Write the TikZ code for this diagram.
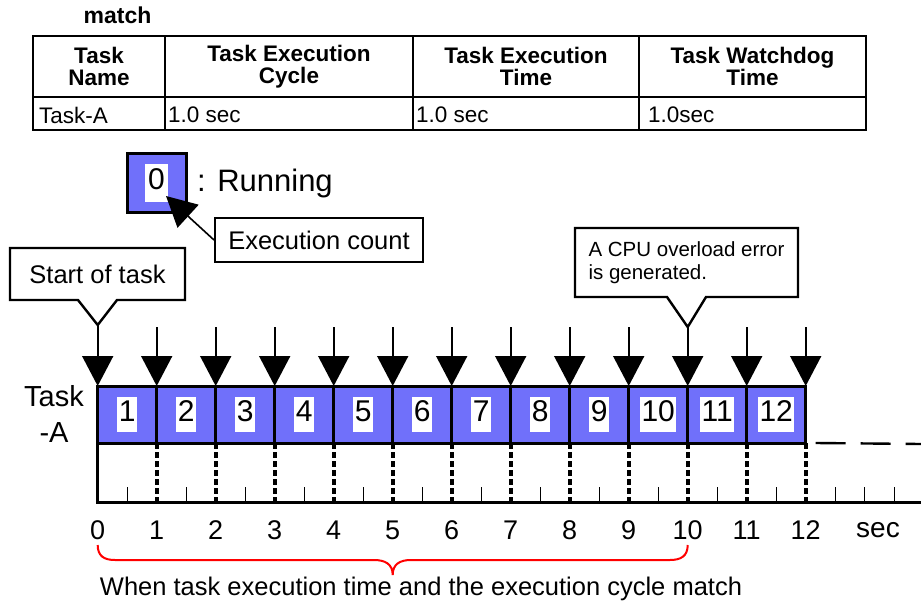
\documentclass[tikz,border=0pt]{standalone}
\usepackage{fontspec}
\setmainfont{Liberation Sans}
\usetikzlibrary{arrows.meta,calc}
\definecolor{runblue}{RGB}{112,112,250}
\newcommand{\fsz}[2]{\fontsize{#1}{#2}\selectfont}
\begin{document}
\begin{tikzpicture}[x=1pt,y=-1pt,
  cellbox/.style={draw,line width=3pt,fill=runblue,minimum width=59pt,minimum height=57pt,inner sep=0pt,outer sep=0pt},
  numbox/.style={fill=white,inner xsep=1.5pt,inner ysep=2.5pt,text height=22pt,text depth=8pt,font=\fsz{30}{30}},
  sched/.style={line width=1.8pt,-{Triangle[width=31pt,length=30pt]}},
  dotline/.style={line width=3.6pt,dash pattern=on 6pt off 3pt},
  axisline/.style={line width=3pt},
  tickline/.style={line width=1.2pt},
  callout/.style={line width=2.4pt,line join=miter},
  tcell/.style={draw,line width=2.8pt,inner sep=0pt,outer sep=0pt},
  thead/.style={font=\bfseries\fsz{22.5}{22},align=center},
  tdata/.style={font=\fsz{22.5}{22},anchor=west,inner sep=0pt},
]
\useasboundingbox (0,0) rectangle (921,605);

% ---------- table ----------
\node[font=\bfseries\fsz{23}{23}] (title) at (117.5,15.5) {match};
\node[tcell,thead,minimum width=132pt,minimum height=61pt] (h1) at (99,66.5) {Task\\Name};
\node[tcell,thead,minimum width=248pt,minimum height=61pt] (h2) at (289,66.5) {Task Execution\\Cycle};
\node[tcell,thead,minimum width=226pt,minimum height=61pt] (h3) at (526,66.5) {Task Execution\\Time};
\node[tcell,thead,minimum width=227pt,minimum height=61pt] (h4) at (752.5,66.5) {Task Watchdog\\Time};
\node[tcell,minimum width=132pt,minimum height=33pt] (d1) at (99,113.5) {};
\node[tcell,minimum width=248pt,minimum height=33pt] (d2) at (289,113.5) {};
\node[tcell,minimum width=226pt,minimum height=33pt] (d3) at (526,113.5) {};
\node[tcell,minimum width=227pt,minimum height=33pt] (d4) at (752.5,113.5) {};
\node[tdata] (v1) at ($(d1.west)+(6,1.5)$) {Task-A};
\node[tdata] (v2) at ($(d2.west)+(3,1.5)$) {1.0 sec};
\node[tdata] (v3) at ($(d3.west)+(3,1.5)$) {1.0 sec};
\node[tdata] (v4) at ($(d4.west)+(9,1.5)$) {1.0sec};

% ---------- legend ----------
\node[cellbox,minimum width=59pt,minimum height=59pt] (leg) at (156.5,182.5) {};
\node[numbox,inner xsep=3pt,inner ysep=4pt] (leg0) at (leg) {0};
\node[anchor=west,font=\fsz{31}{31},inner sep=0pt] (run) at (197,183) {: Running};
\node[draw,line width=2pt,minimum width=208pt,minimum height=44pt,font=\fsz{25.5}{25.5}] (exec) at (319,240) {Execution count};
\coordinate (legtip) at (166,196);
\draw[sched,line width=1.6pt] (exec.west) -- (legtip);

% ---------- callouts ----------
\node[minimum width=175pt,minimum height=52pt,inner sep=0pt,outer sep=0pt,font=\fsz{25.5}{25.5}] (start) at (97.5,274) {Start of task};
\coordinate (t0) at (97.7,325);
\draw[callout] (start.north west) -- (start.north east) -- (start.south east) -- ($(start.south)+(19.5,0)$) -- (t0) -- ($(start.south)+(-19.5,0)$) -- (start.south west) -- cycle;

\node[minimum width=223pt,minimum height=69pt,inner sep=0pt,outer sep=0pt,align=left,font=\fsz{20.5}{22.5}] (cpu) at (686.5,262.5) {A CPU overload error\\is generated.};
\coordinate (t10) at (687.7,327);
\draw[callout] (cpu.north west) -- (cpu.north east) -- (cpu.south east) -- ($(cpu.south)+(19.5,0)$) -- (t10) -- ($(cpu.south)+(-19.5,0)$) -- (cpu.south west) -- cycle;

% ---------- task bar ----------
\node[font=\fsz{29}{36},align=center] (tname) at (54,414) {Task\\-A};
\foreach \i in {1,...,12} {
  \node[cellbox] (c\i) at ({97.7+59*(\i-0.5)},414.5) {};
  \node[numbox] (n\i) at (c\i) {\i};
}

% ---------- schedule arrows ----------
\foreach \k in {1,...,9,11,12} { \coordinate (s\k) at ({97.7+59*\k},327); }
\draw[sched] (t0) -- (c1.north west);
\foreach \k/\j in {1/2,2/3,3/4,4/5,5/6,6/7,7/8,8/9,9/10,11/12} {
  \draw[sched] (s\k) -- (c\j.north west);
}
\draw[sched] (t10) -- (c11.north west);
\draw[sched] (s12) -- (c12.north east);

% ---------- continuation ----------
\coordinate (dend) at (921,444);
\draw[line width=2.4pt,dash pattern=on 30pt off 15pt] ($(c12.south east)+(10,0)$) -- (dend);

% ---------- time axis ----------
\coordinate (a0) at (97.7,502);
\coordinate (aend) at (921,502);
\foreach \t in {0.5,1.5,...,13.5,13} {
  \draw[tickline] ({97.7+59*\t},487) -- ({97.7+59*\t},502);
}
\foreach \k in {1,...,12} {
  \coordinate (a\k) at ({97.7+59*\k},502);
  \draw[dotline] (c\k.south east) -- (a\k);
}
\draw[axisline] (c1.south west) -- (a0) -- (aend);
\foreach \k in {0,...,12} {
  \node[font=\fsz{27}{27}] (l\k) at ({97.7+59*\k},530) {\k};
}
\node[font=\fsz{28}{28}] (sec) at (878,530) {sec};

% ---------- brace ----------
\coordinate (b0) at (97.7,545);
\coordinate (b1) at (687.7,545);
\draw[red,line width=2pt] (b0) .. controls (97.7,556) and (104,560) .. (115,560) -- (374,560)
  .. controls (385,560) and (392.7,564) .. (392.7,575)
  .. controls (392.7,564) and (400,560) .. (411,560) -- (670,560)
  .. controls (681,560) and (687.7,556) .. (b1);
\node[font=\fsz{25.5}{25.5}] (note) at (421,589) {When task execution time and the execution cycle match};
\end{tikzpicture}
\end{document}
